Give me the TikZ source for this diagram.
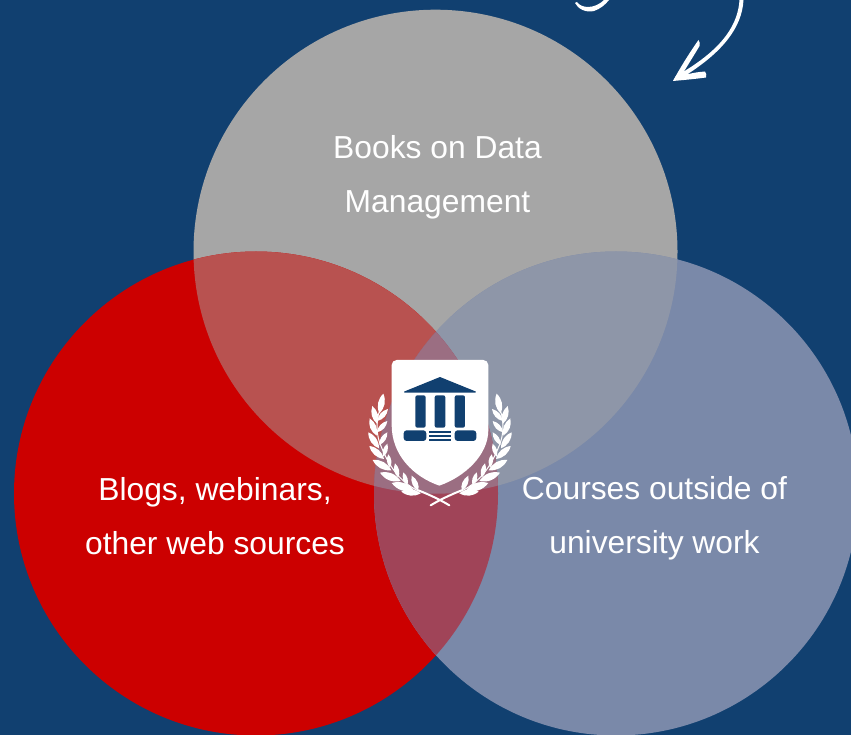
\documentclass[tikz,border=0pt]{standalone}
\usepackage{fontspec}
\setmainfont{Liberation Sans}
\definecolor{bgblue}{HTML}{114070}
\definecolor{topgray}{HTML}{A6A6A6}
\definecolor{leftred}{HTML}{CC0000}
\definecolor{rightblue}{HTML}{7A89A9}
\definecolor{tl}{HTML}{B85250}
\definecolor{tr}{HTML}{8E96A8}
\definecolor{lr}{HTML}{A04458}
\definecolor{tlr}{HTML}{9B6E82}
\tikzset{
  vlabel/.style={text=white,align=center,font=\fontsize{31.8}{54}\selectfont,inner sep=0pt},
  logoblue/.style={fill=bgblue,draw=none},
  laurelpart/.style={fill=white,draw=none}
}
\newcommand{\TopC}{(435.5,251.7) circle (242)}
\newcommand{\LeftC}{(256,493.5) circle (242)}
\newcommand{\RightC}{(616,493.5) circle (242)}
\newcommand{\lleaf}[2]{\fill[laurelpart] (#1) to[bend left=34] (#2) to[bend left=34] (#1);}
\newcommand{\laurel}{%
  \draw[white,line width=1pt,line cap=round] (205,438) .. controls (150,410) and (115,365) .. (88,290) .. controls (78,260) and (80,220) .. (88,200);
  \draw[white,line width=2pt,line cap=round] (298,481) .. controls (270,464) and (240,450) .. (205,436);
  \lleaf{88,205}{100,146}
  \lleaf{82,237}{67,183}
  \lleaf{82,228}{114,192}
  \lleaf{80,272}{59,220}
  \lleaf{81,262}{112,228}
  \lleaf{87,310}{55,262}
  \lleaf{88,300}{112,262}
  \lleaf{102,342}{58,303}
  \lleaf{100,335}{112,296}
  \lleaf{124,376}{68,345}
  \lleaf{120,368}{115,328}
  \lleaf{152,408}{90,383}
  \lleaf{145,398}{135,355}
  \lleaf{192,436}{125,414}
  \lleaf{172,422}{160,382}
  \lleaf{212,445}{154,440}
  \lleaf{205,438}{185,392}
}
\begin{document}
\begin{tikzpicture}[x=1pt,y=-1pt]
\useasboundingbox (0,0) rectangle (851,735);
\clip (0,0) rectangle (851,735);
\fill[bgblue] (0,0) rectangle (851,735);
\fill[topgray] \TopC;
\fill[leftred] \LeftC;
\fill[rightblue] \RightC;
\begin{scope}\clip \TopC; \fill[tl] \LeftC; \fill[tr] \RightC; \end{scope}
\begin{scope}\clip \LeftC; \fill[lr] \RightC; \begin{scope}\clip \RightC; \fill[tlr] \TopC; \end{scope}\end{scope}
% hand drawn arrow
\fill[white] (739.5,0) .. controls (738,22) and (726,48) .. (676,76) -- (673,81)
  .. controls (684,80) and (695,79) .. (706,77.5) .. controls (707,75) and (706,73) .. (705,71.5)
  .. controls (698,72) and (692,73) .. (687,74.5) .. controls (722,52) and (742,28) .. (743.5,0) -- cycle;
\fill[white] (673,81) .. controls (680,68) and (690,52) .. (698.5,40) .. controls (700,42) and (700,44) .. (699.5,46)
  .. controls (693,57) and (686,68) .. (680,78) -- cycle;
\fill[white] (575,3) .. controls (578,9) and (586,13) .. (594,11) .. controls (600,9) and (605,5) .. (609,0)
  -- (604,0) .. controls (600,4) and (594,7) .. (588,7) .. controls (583,7) and (579,5) .. (577,2) -- cycle;
% labels
\node[vlabel] (books) at (437.5,176.8) {Books on Data\\Management};
\node[vlabel] (blogs) at (215,516.3) {Blogs, webinars,\\other web sources};
\node[vlabel] (courses) at (654.5,518.5) {Courses outside of\\university work};
% logo, in 3x crop coordinates
\begin{scope}[shift={(350,345)},x=0.3333pt,y=-0.3333pt]
\fill[white,rounded corners=5pt] (125,45) -- (415,45) -- (415,150) -- (415,240) [sharp corners] .. controls (415,330) and (345,395) .. (268,422) .. controls (190,395) and (125,330) .. (125,240) [rounded corners=5pt] -- (125,150) -- cycle;
\fill[logoblue,draw=bgblue,line width=1.2pt,line join=round] (164,141) -- (270,98) -- (376,141) -- cycle;
\fill[logoblue,rounded corners=2pt] (196,151) rectangle (227,248);
\fill[logoblue,rounded corners=2pt] (254,151) rectangle (286,248);
\fill[logoblue,rounded corners=2pt] (314,151) rectangle (345,248);
\fill[logoblue,rounded corners=3pt] (161,256) rectangle (229,288);
\fill[logoblue,rounded corners=3pt] (314,256) rectangle (379,288);
\fill[logoblue] (237,258) rectangle (303,264);
\fill[logoblue] (237,270) rectangle (303,276);
\fill[logoblue] (237,282) rectangle (303,288);
\laurel
\begin{scope}[shift={(180pt,0)},xscale=-1]
\laurel
\end{scope}
\end{scope}
\end{tikzpicture}
\end{document}
